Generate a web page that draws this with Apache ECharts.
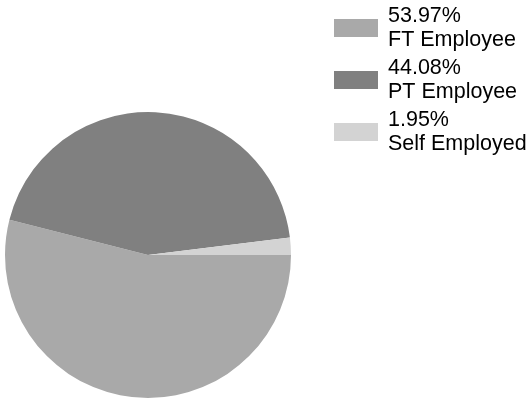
<!DOCTYPE html>
<html>
<head>
<meta charset="utf-8">
<script src="https://cdn.jsdelivr.net/npm/echarts@6/dist/echarts.min.js"></script>
<style>
html, body { margin: 0; padding: 0; background: #fff; }
#chart { width: 531px; height: 400px; }
</style>
</head>
<body>
<div id="chart"></div>
<script>
// employment type split
const categories = ['FT Employee', 'PT Employee', 'Self Employed'];
const percents = [53.97, 44.08, 1.95];
const colors = ['#a9a9a9', '#808080', '#d3d3d3'];

const chart = echarts.init(document.getElementById('chart'));

const option = {
    animation: false,
    legend: {
        orient: 'vertical',
        left: 334,
        top: 4,
        padding: 0,
        itemWidth: 44,
        itemHeight: 18,
        itemGap: 4,
        itemStyle: { borderWidth: 0 },
        icon: 'rect',
        textStyle: {
            fontFamily: 'Liberation Sans',
            fontSize: 21.5,
            lineHeight: 24,
            color: '#000',
            padding: [0, 0, 0, 5]
        },
        formatter: function (name) {
            const i = categories.indexOf(name);
            return percents[i].toFixed(2) + '%\n' + name;
        },
        data: categories
    },
    series: [{
        type: 'pie',
        center: [148, 255],
        radius: 143,
        startAngle: 0,
        clockwise: true,
        label: { show: false },
        labelLine: { show: false },
        emphasis: { disabled: true },
        itemStyle: { borderWidth: 0 },
        data: categories.map((c, i) => ({
            name: c,
            value: percents[i],
            itemStyle: { color: colors[i] }
        }))
    }]
};

chart.setOption(option);
</script>
</body>
</html>
